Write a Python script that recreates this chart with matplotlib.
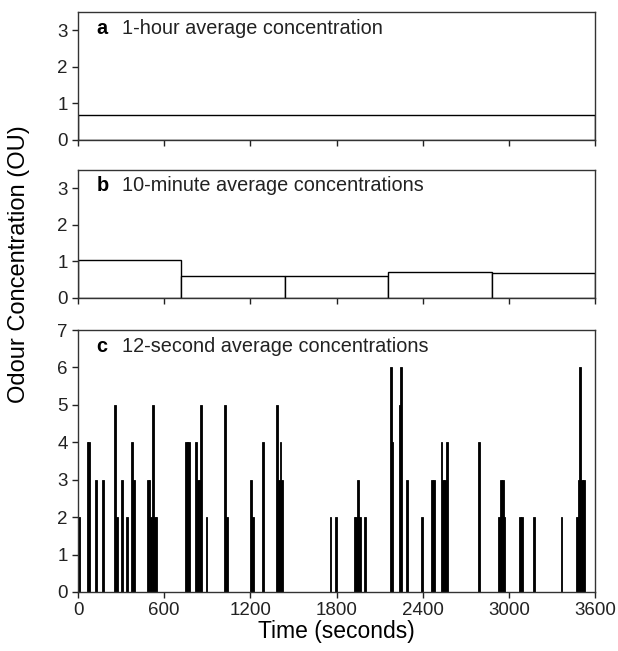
import matplotlib
matplotlib.use("Agg")
import matplotlib.pyplot as plt

plt.rcParams['font.family'] = ['Liberation Sans', 'DejaVu Sans']

# panel a: one hourly mean
hour_start = [0]
hour_width = 3600
hour_mean = [0.67]

# panel b: five block means
block_starts = [0, 720, 1440, 2160, 2880]
block_width = 720
block_means = [1.04, 0.59, 0.61, 0.70, 0.68]

# panel c: 12-second means (start time, value), zero elsewhere
spike_times = [0, 60, 72, 120, 168, 252, 264, 300, 336, 372, 384,
               480, 492, 504, 516, 528, 540,
               744, 756, 768, 816, 828, 840, 852, 888,
               1020, 1032, 1200, 1212, 1284,
               1380, 1392, 1404, 1416,
               1752, 1788,
               1920, 1932, 1944, 1956, 1992,
               2172, 2184, 2232, 2244, 2284, 2388,
               2460, 2472, 2526, 2538, 2550, 2562,
               2784, 2928, 2940, 2952, 2964,
               3072, 3084, 3168, 3360,
               3468, 3480, 3492, 3504, 3516]
spike_values = [2, 4, 4, 3, 3, 5, 2, 3, 2, 4, 3,
                3, 3, 2, 5, 2, 2,
                4, 4, 4, 4, 3, 3, 5, 2,
                5, 2, 3, 2, 4,
                5, 3, 4, 3,
                2, 2,
                2, 2, 3, 2, 2,
                6, 4, 5, 6, 3, 2,
                3, 3, 4, 3, 3, 4,
                4, 2, 3, 3, 2,
                2, 2, 2, 2,
                2, 3, 6, 3, 3]
spike_width = 12

x_ticks = [0, 600, 1200, 1800, 2400, 3000, 3600]

fig = plt.figure(figsize=(6.18, 6.51), dpi=100)
left, width = 78 / 618, 517 / 618
ax_a = fig.add_axes([left, 1 - 140 / 651, width, 128 / 651])
ax_b = fig.add_axes([left, 1 - 298 / 651, width, 128 / 651])
ax_c = fig.add_axes([left, 1 - 592 / 651, width, 262 / 651])

ax_a.bar(hour_start, hour_mean, width=hour_width, align='edge',
         facecolor='white', edgecolor='black', linewidth=1.0)
ax_b.bar(block_starts, block_means, width=block_width, align='edge',
         facecolor='white', edgecolor='black', linewidth=1.0)
ax_c.bar(spike_times, spike_values, width=spike_width, align='edge',
         color='black', edgecolor='black', linewidth=0.6)

labels = [('a', '1-hour average concentration', 1 - 16 / 128),
          ('b', '10-minute average concentrations', 1 - 16 / 128),
          ('c', '12-second average concentrations', 1 - 16 / 262)]

for ax, (letter, txt, ty), ymax, yticks in zip(
        [ax_a, ax_b, ax_c], labels, [3.5, 3.5, 7],
        [[0, 1, 2, 3], [0, 1, 2, 3], list(range(8))]):
    ax.set_xlim(0, 3600)
    ax.set_ylim(0, ymax)
    ax.set_xticks(x_ticks)
    ax.set_yticks(yticks)
    ax.tick_params(direction='out', length=4, width=1, labelsize=13.5,
                   colors='#222222')
    ax.tick_params(axis='x', pad=3)
    for sp in ax.spines.values():
        sp.set_linewidth(1.0)
        sp.set_color('#333333')
    ax.text(0.036, ty, letter, transform=ax.transAxes, fontsize=14.3,
            fontweight='bold', va='center', ha='left')
    ax.text(0.086, ty, txt, transform=ax.transAxes, fontsize=14.3,
            va='center', ha='left', color='#222222')

ax_a.set_xticklabels([])
ax_b.set_xticklabels([])
ax_c.set_xlabel('Time (seconds)', fontsize=16.5, labelpad=1)

fig.text(0.03, 0.595, 'Odour Concentration (OU)', rotation=90,
         ha='center', va='center', fontsize=17)

fig.savefig('out.png', dpi=100)
